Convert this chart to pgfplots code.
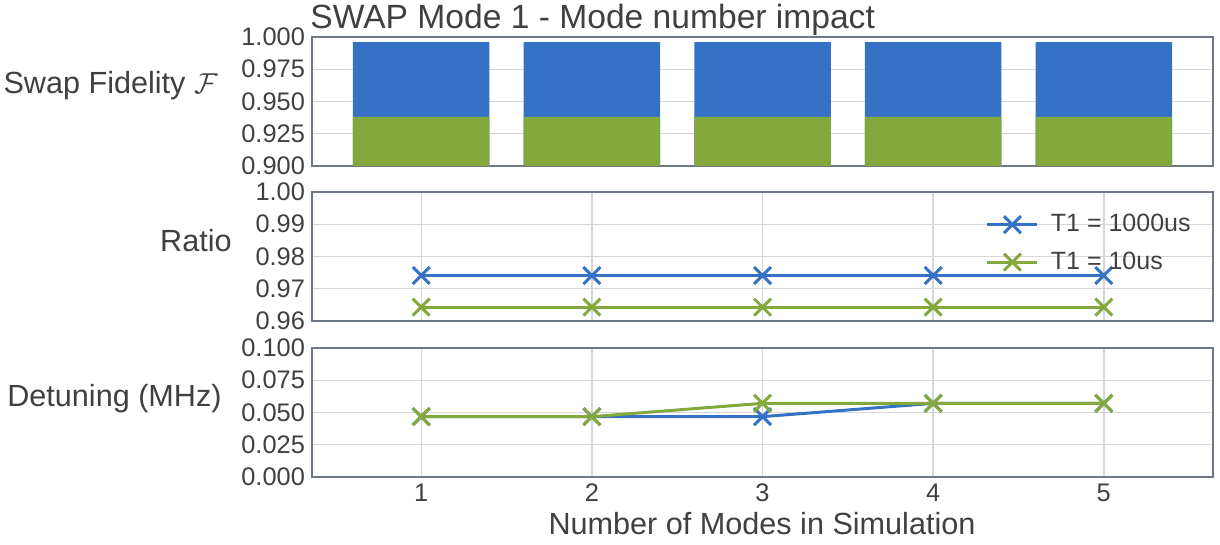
\documentclass[border=0pt]{standalone}
\usepackage{fontspec}
\setmainfont{Liberation Sans}
\usepackage{pgfplots}
\pgfplotsset{compat=1.18}

\definecolor{fidblue}{HTML}{3572C6}
\definecolor{fidgreen}{HTML}{83A83B}
\definecolor{framec}{HTML}{6E7887}
\definecolor{gridc}{HTML}{D6D6D6}
\definecolor{txt}{HTML}{404040}

% fidelity per number of modes
\pgfplotstableread{
n  hi     lo
1  0.996  0.938
2  0.996  0.938
3  0.996  0.938
4  0.996  0.938
5  0.996  0.938
}\fidelity
% ratio per number of modes
\pgfplotstableread{
n  hi      lo
1  0.9741  0.9643
2  0.9741  0.9643
3  0.9741  0.9643
4  0.9741  0.9643
5  0.9741  0.9643
}\ratio
% detuning (MHz) per number of modes
\pgfplotstableread{
n  hi      lo
1  0.0468  0.0468
2  0.0468  0.0468
3  0.0468  0.0571
4  0.0571  0.0571
5  0.0571  0.0571
}\detuning

\pgfplotsset{
  panel/.style={
    scale only axis, width=450.5pt, height=64.5pt,
    xmin=0.36, xmax=5.64,
    axis line style={framec, line width=0.6pt},
    grid style={gridc, line width=0.7pt},
    major tick length=0pt,
    ymajorgrids,
    tick label style={font=\fontsize{12.7}{14}\selectfont, text=txt},
    /pgf/number format/assume math mode=true,
    yticklabel style={/pgf/number format/fixed, /pgf/number format/fixed zerofill, /pgf/number format/precision=3},
    anchor=north west,
  },
  trace/.style={color=#1, line width=1.5pt, mark=x, mark size=6pt,
    mark options={line width=1.5pt, solid}},
}

\begin{document}
\begin{tikzpicture}
\path[use as bounding box] (0,0) rectangle (610pt,-272.5pt);

% fidelity bars
\begin{axis}[panel, at={(156pt,-18.5pt)},
  ymin=0.9, ymax=1.0, ytick={0.9,0.925,0.95,0.975,1.0},
  xtick=\empty]
\addplot[ybar, bar width=0.8, bar shift=0pt, fill=fidblue, draw=none] table[x=n, y=hi] {\fidelity};
\addplot[ybar, bar width=0.8, bar shift=0pt, fill=fidgreen, draw=none] table[x=n, y=lo] {\fidelity};
\end{axis}

% ratio
\begin{axis}[panel, at={(156pt,-96pt)},
  ymin=0.96, ymax=1.0, ytick={0.96,0.97,0.98,0.99,1.0},
  yticklabel style={/pgf/number format/precision=2},
  xtick={1,2,3,4,5}, xticklabels={}, xmajorgrids,
  legend style={at={(1,1)}, anchor=north east, xshift=-6pt, yshift=-7pt,
    draw=none, fill=none, font=\fontsize{12.5}{14}\selectfont, text=txt,
    row sep=4.5pt,
    /tikz/every odd column/.append style={column sep=4pt}},
  legend cell align=left,
  legend image code/.code={\draw[mark repeat=2, mark phase=2, #1] plot coordinates {(0pt,0pt) (12.5pt,0pt) (25pt,0pt)};}]
\addplot[trace=fidblue] table[x=n, y=hi] {\ratio};
\addlegendentry{T1 = 1000us}
\addplot[trace=fidgreen] table[x=n, y=lo] {\ratio};
\addlegendentry{T1 = 10us}
\end{axis}

% detuning
\begin{axis}[panel, at={(156pt,-174pt)},
  ymin=0, ymax=0.1, ytick={0,0.025,0.05,0.075,0.1},
  xtick={1,2,3,4,5}, xmajorgrids]
\addplot[trace=fidblue] table[x=n, y=hi] {\detuning};
\addplot[trace=fidgreen] table[x=n, y=lo] {\detuning};
\end{axis}

\node[anchor=base west, font=\fontsize{16.8}{20}\selectfont, text=txt, inner sep=0pt] at (155pt,-14.5pt) {SWAP Mode 1 - Mode number impact};
\node[anchor=base east, font=\fontsize{15.3}{18}\selectfont, text=txt, inner sep=0pt] at (109pt,-47pt) {Swap Fidelity $\mathcal{F}$};
\node[anchor=base east, font=\fontsize{15.3}{18}\selectfont, text=txt, inner sep=0pt] at (116pt,-125.5pt) {Ratio};
\node[anchor=base east, font=\fontsize{15.3}{18}\selectfont, text=txt, inner sep=0pt] at (111pt,-203pt) {Detuning (MHz)};
\node[anchor=base, font=\fontsize{15.3}{18}\selectfont, text=txt, inner sep=0pt] at (381pt,-267pt) {Number of Modes in Simulation};
\end{tikzpicture}
\end{document}
